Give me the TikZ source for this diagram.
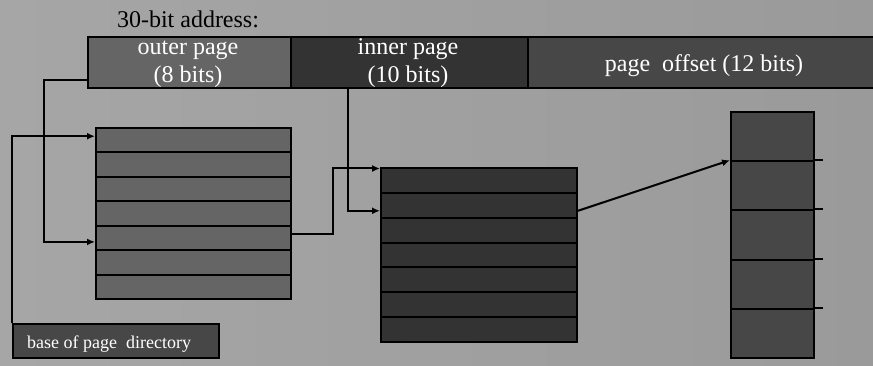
\documentclass[tikz,border=0pt]{standalone}
\usepackage{fontspec}
\setmainfont{Liberation Serif}
\usetikzlibrary{arrows.meta,calc}
\definecolor{bgA}{HTML}{A6A6A6}
\definecolor{bgB}{HTML}{9A9A9A}
\definecolor{midgray}{HTML}{656565}
\definecolor{darkgray}{HTML}{333333}
\definecolor{slate}{HTML}{474747}
\tikzset{
  field/.style={draw=black, line width=2pt, anchor=north west, inner sep=0pt},
  entry/.style={draw=black, line width=2pt, anchor=north west, inner sep=0pt, minimum width=#1},
  label/.style={text=white, font=\fontsize{24}{28}\selectfont, anchor=base, inner sep=0pt},
  wire/.style={draw=black, line width=2pt},
  arr/.style={wire, -{Latex[length=8pt,width=7pt]}}
}
\begin{document}
\begin{tikzpicture}[x=1pt,y=-1pt]
  % canvas
  \shade[left color=bgA, right color=bgB] (0,0) rectangle (873,366);
  \useasboundingbox (0,0) rectangle (873,366);

  % address fields
  \node[anchor=base, inner sep=0pt, font=\fontsize{24}{28}\selectfont] (title) at (188,28) {30-bit address:};
  \node[field, fill=midgray, minimum width=203pt, minimum height=51pt] (outer) at (87,36) {};
  \node[field, fill=darkgray, minimum width=237pt, minimum height=51pt] (inner) at (290,36) {};
  \node[field, fill=slate, minimum width=360pt, minimum height=51pt] (offset) at (527,36) {};
  \node[label] (outerA) at (188,55) {outer page};
  \node[label] (outerB) at (188,83) {(8 bits)};
  \node[label] (innerA) at (408,55) {inner page};
  \node[label] (innerB) at (408,83) {(10 bits)};
  \node[label] (offsetA) at (704,72) {page\ \ offset (12 bits)};

  % page directory
  \foreach \k in {1,...,7} {
    \node[entry=195pt, fill=midgray, minimum height=24.43pt] (d\k) at (95,{127+(\k-1)*24.43}) {};
  }
  % page table
  \foreach \k in {1,...,7} {
    \node[entry=196pt, fill=darkgray, minimum height=24.86pt] (i\k) at (380,{167+(\k-1)*24.86}) {};
  }
  % page frame
  \foreach \k in {1,...,5} {
    \node[entry=83pt, fill=slate, minimum height=49.2pt] (p\k) at (730,{111+(\k-1)*49.2}) {};
  }
  \foreach \k in {2,...,5} {
    \draw[wire] (p\k.north east) -- ++(8,0);
  }

  % base register
  \node[field, fill=slate, minimum width=206pt, minimum height=34pt] (base) at (12,323) {};
  \node[text=white, font=\fontsize{18}{20}\selectfont, anchor=base west, inner sep=0pt] (baseT) at (27,348) {base of page\ \ directory};

  % connectors
  \draw[arr] (base.north west) |- ([yshift=4pt]d1.west);
  \coordinate (outerTap) at ([yshift=-17.5pt]outer.west);
  \draw[arr] (outerTap) -- ++(-43,0) |- ([yshift=-4pt]d5.west);
  \coordinate (dirOut) at ([yshift=4pt]d5.east);
  \draw[arr] (dirOut) -- ++(41,0) |- ([yshift=-1.5pt]i1.north west);
  \coordinate (innerTap) at (348,87);
  \draw[arr] (innerTap) |- ([yshift=-5.5pt]i2.west);
  \draw[arr] ([yshift=-5.5pt]i2.east) -- (p2.north west);
\end{tikzpicture}
\end{document}
